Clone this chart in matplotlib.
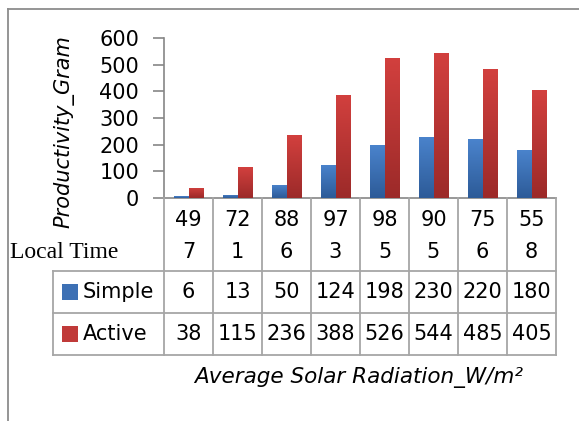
import matplotlib
matplotlib.use("Agg")
import matplotlib.pyplot as plt
import numpy as np
from matplotlib.lines import Line2D
from matplotlib.patches import Rectangle
from matplotlib.colors import LinearSegmentedColormap

# ---- data ----
radiation = ["497", "721", "886", "973", "985", "905", "756", "558"]
series_names = ["Simple", "Active"]
simple = [6, 13, 50, 124, 198, 230, 220, 180]
active = [38, 115, 236, 388, 526, 544, 485, 405]
yticks = [0, 100, 200, 300, 400, 500, 600]
row_title = "Local Time"
y_label = "Productivity_Gram"
x_label = "Average Solar Radiation_W/m\u00b2"

W, H = 579, 421
fig = plt.figure(figsize=(W / 100, H / 100), dpi=100)
fig.patch.set_facecolor("white")

def fx(px):
    return px / W

def fy(py):
    return 1 - py / H

FONT = "DejaVu Sans"
FS = 15
GRID = "#a6a6a6"

ax = fig.add_axes([fx(164), fy(198), (556 - 164) / W, (198 - 38) / H])
n = len(radiation)
x = np.arange(n)
w = 0.3
blue_cmap = LinearSegmentedColormap.from_list("b", ["#2d5b98", "#4a83cc"])
red_cmap = LinearSegmentedColormap.from_list("r", ["#9c2a29", "#d2403e"])

bars_s = ax.bar(x - w / 2, simple, w, color="#3d70b4", zorder=2)
bars_a = ax.bar(x + w / 2, active, w, color="#c03a39", zorder=2)
grad = np.linspace(0, 1, 64).reshape(-1, 1)
for bars, cm in ((bars_s, blue_cmap), (bars_a, red_cmap)):
    for p in bars:
        x0, y0, bw, bh = p.get_x(), p.get_y(), p.get_width(), p.get_height()
        im = ax.imshow(grad, extent=[x0, x0 + bw, y0, y0 + bh], origin="lower",
                       cmap=cm, aspect="auto", zorder=3, interpolation="bilinear")
        im.set_clip_path(p)

ax.set_xlim(-0.5, n - 0.5)
ax.set_ylim(0, 600)
ax.set_yticks(yticks)
ax.set_xticks([])
for s in ("top", "right"):
    ax.spines[s].set_visible(False)
for s in ("left", "bottom"):
    ax.spines[s].set_color("#868686")
    ax.spines[s].set_linewidth(1.2)
ax.tick_params(axis="y", direction="out", length=8, width=1.2, color="#868686",
               pad=10, labelsize=FS)
for t in ax.get_yticklabels():
    t.set_fontfamily(FONT)

# ---- data table ----
inv = fig.transFigure.inverted()
def col_x(v):
    return inv.transform(ax.transData.transform((v, 0)))[0]

edges = [col_x(i - 0.5) for i in range(n + 1)]
centers = [col_x(i) for i in range(n)]
left_px = fx(53)
y_top, y_hdr, y_r1, y_r2 = fy(198), fy(271), fy(313), fy(355)

def line(xs, ys):
    fig.add_artist(Line2D(xs, ys, color=GRID, lw=1.3, transform=fig.transFigure))

for e in edges:
    line([e, e], [y_top, y_r2])
line([left_px, left_px], [y_hdr, y_r2])
for yy in (y_hdr, y_r1, y_r2):
    line([left_px, edges[-1]], [yy, yy])

for c, lab in zip(centers, radiation):
    fig.text(c, fy(220), lab[:2], ha="center", va="center", fontsize=FS, family=FONT)
    fig.text(c, fy(252), lab[2:], ha="center", va="center", fontsize=FS, family=FONT)

fig.text(fx(10), fy(253), row_title, ha="left", va="center", fontsize=17,
         family="Liberation Serif")

rows = [(series_names[0], simple, "#3d70b4", fy(292)),
        (series_names[1], active, "#c03a39", fy(334))]
for name, vals, col, yy in rows:
    fig.add_artist(Rectangle((fx(62), yy - 8 / H), 16 / W, 16 / H, facecolor=col,
                             edgecolor="none", transform=fig.transFigure))
    fig.text(fx(83), yy, name, ha="left", va="center", fontsize=FS, family=FONT)
    for c, v in zip(centers, vals):
        fig.text(c, yy, str(v), ha="center", va="center", fontsize=FS, family=FONT)

# ---- axis titles ----
fig.text(fx(359), fy(378), x_label, ha="center", va="center", fontsize=15.5,
         family=FONT, style="italic")
fig.text(fx(64), fy(132), y_label, ha="center", va="center", fontsize=FS,
         family=FONT, style="italic", rotation=90)

# ---- outer frame ----
fig.add_artist(Line2D([fx(8), 1], [fy(9), fy(9)], color="#8c8c8c", lw=1.3,
                      transform=fig.transFigure))
fig.add_artist(Line2D([fx(8), fx(8)], [fy(9), 0], color="#8c8c8c", lw=1.3,
                      transform=fig.transFigure))

fig.savefig("out.png", dpi=100)
